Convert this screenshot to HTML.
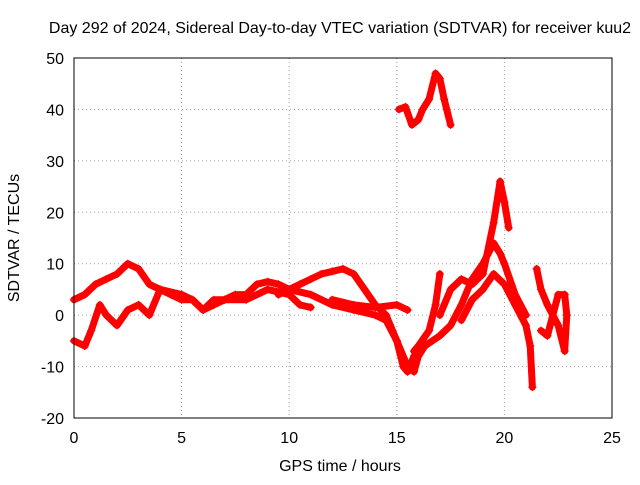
<!DOCTYPE html>
<html><head><meta charset="utf-8"><style>
body{margin:0;background:#fff}
svg text{font-family:"Liberation Sans",sans-serif;font-size:16px;fill:#000}
</style></head><body>
<svg id="chart" width="640" height="480">
<text x="340" y="33" text-anchor="middle">Day 292 of 2024, Sidereal Day-to-day VTEC variation (SDTVAR) for receiver kuu2</text>
<text x="340" y="471" text-anchor="middle">GPS time / hours</text>
<text transform="translate(19,238) rotate(-90)" text-anchor="middle">SDTVAR / TECUs</text>
<g id="grid"></g><g id="ticks"></g><g id="marks"></g>
<rect x="74" y="58" width="538" height="360" fill="none" stroke="#000"/>
</svg>
<script>
const xTicks=[0,5,10,15,20,25];
const yTicks=[-20,-10,0,10,20,30,40,50];
const track1=[[0,3],[0.5,4],[1,6],[1.5,7],[2,8],[2.5,10],[3,9],[3.5,6],[4,5],[5,4],[5.5,3],[6,1],[6.5,2],[7,3],[7.5,4],[8,4],[8.5,6],[9,6.5],[9.5,6],[10,5],[10.5,6],[11,7],[11.5,8],[12,8.5],[12.5,9],[13,8],[13.5,5],[14,2],[14.5,0],[15,-5],[15.5,-10],[15.8,-11],[16,-8],[16.3,-6],[17,-4],[17.5,-2],[18,2],[18.5,7],[19,10],[19.5,14],[19.8,12],[20,10],[20.5,4],[21,0]];
const track2=[[0,-5],[0.5,-6],[0.8,-3],[1.2,2],[1.5,0],[2,-2],[2.5,1],[3,2],[3.5,0],[4,5],[4.5,4],[5,3],[5.5,3],[6,1],[6.5,3],[7,3],[8,3],[9,5],[10,4],[10.5,2],[11,1.5]];
const track3=[[9.5,4],[10,5],[11,4],[12,2],[13,1],[14,0],[14.5,-1],[15,-5],[15.3,-10],[15.5,-11],[15.8,-8]];
const track4=[[12,3],[13,2],[14,1.5],[15,2],[15.5,1]];
const track5=[[15.1,40],[15.4,40.5],[15.7,37],[16,38],[16.2,40],[16.5,42],[16.8,47],[17,46],[17.2,42],[17.5,37]];
const track6=[[15.8,-7],[16,-6],[16.5,-3],[16.8,2],[17,8]];
const track7=[[17,0],[17.5,5],[18,7],[18.5,6],[19,8],[19.5,18],[19.8,26],[20,22],[20.2,17]];
const track8=[[18,-1],[18.5,3],[19,5],[19.5,8],[20,6],[20.5,2],[21,-2],[21.2,-6],[21.3,-14]];
const track9=[[21.5,9],[21.7,5],[22,2],[22.5,-2],[22.8,-7],[22.9,0],[22.8,4]];
const track10=[[21.7,-3],[22,-4],[22.5,4],[22.8,4]];
const tracks=[track1,track2,track3,track4,track5,track6,track7,track8,track9,track10];
const NS="http://www.w3.org/2000/svg";
const X=v=>74+v*538/25, Y=v=>418-(v+20)*360/70;
const grid=document.getElementById('grid'),ticks=document.getElementById('ticks'),marks=document.getElementById('marks');
function mk(tag,attrs,parent){const e=document.createElementNS(NS,tag);for(const k in attrs)e.setAttribute(k,attrs[k]);parent.appendChild(e);return e;}
xTicks.forEach(t=>{
  const g=mk('line',{x1:X(t),x2:X(t),y1:58,y2:418,stroke:'#a0a0a0','stroke-dasharray':'1,3'},grid);
  
  
  const tx=mk('text',{x:X(t),y:443,'text-anchor':'middle'},ticks);tx.textContent=t;
  
  
});
yTicks.forEach(t=>{
  const g=mk('line',{x1:74,x2:612,y1:Y(t),y2:Y(t),stroke:'#a0a0a0','stroke-dasharray':'1,3'},grid);
  
  
  const tx=mk('text',{x:64,y:Y(t)+6,'text-anchor':'end'},ticks);tx.textContent=t;
  
  
});
tracks.forEach(tr=>{
  const p=mk('polyline',{points:tr.map(d=>X(d[0])+','+Y(d[1])).join(' '),fill:'none',stroke:'#ff0000','stroke-width':7,'stroke-linejoin':'round','stroke-linecap':'round'},marks);
  
  
  tr.forEach(d=>{
    const m=mk('path',{d:`M${X(d[0])-4},${Y(d[1])}h8M${X(d[0])},${Y(d[1])-4}v8`,stroke:'#ff0000','stroke-width':1.2},marks);
    
    
  });
});
</script>
</body></html>
